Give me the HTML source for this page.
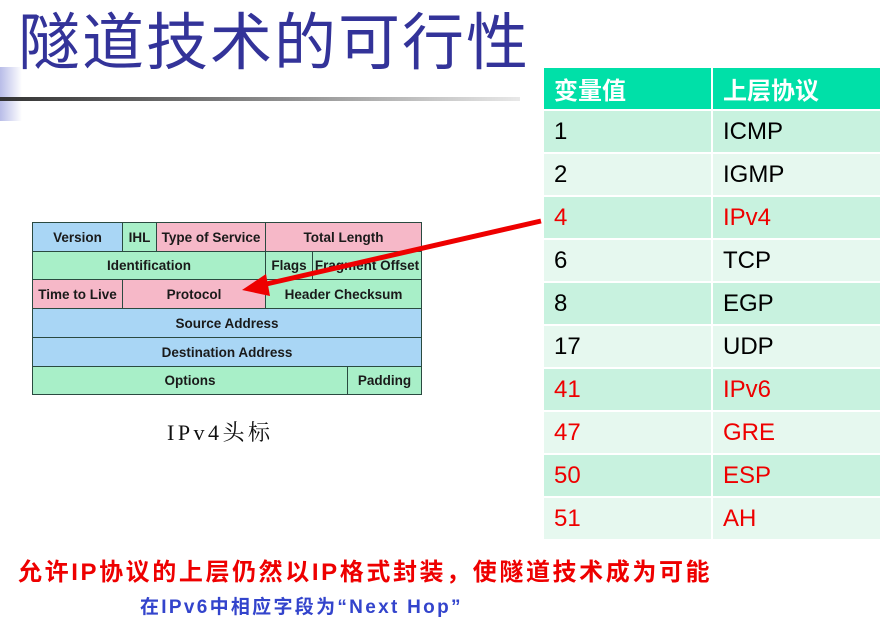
<!DOCTYPE html>
<html><head><meta charset="utf-8"><style>
body{margin:0;width:885px;height:637px;background:#fff;position:relative;overflow:hidden;font-family:"Liberation Sans","Noto Sans CJK SC",sans-serif}
.a{position:absolute}
.title{left:18px;top:4px;font-size:62px;color:#333399;letter-spacing:2px;white-space:nowrap;line-height:80px}
.pk{position:absolute;box-sizing:border-box;border:1.5px solid #2a4a40;font-weight:bold;font-size:13.5px;color:#1a1a1a;display:flex;align-items:center;justify-content:center;white-space:nowrap;overflow:hidden}
.b{background:#a9d6f5}.g{background:#a8efc8}.p{background:#f6b8c8}
.c{position:absolute;box-sizing:border-box;font-size:24px;padding-left:10px;display:flex;align-items:center;color:#000}
.r{color:#ee0000}
</style></head><body>
<div class="a" style="left:0;top:67px;width:22px;height:54px;background:linear-gradient(90deg,#b8bce8,#fff)"></div>
<div class="a" style="left:0;top:97px;width:520px;height:4px;background:linear-gradient(90deg,#333,#999 60%,#e8e8e8)"></div>
<div class="a title">隧道技术的可行性</div>

<div class="pk b" style="left:32px;top:222px;width:91px;height:30px">Version</div>
<div class="pk g" style="left:122px;top:222px;width:35px;height:30px">IHL</div>
<div class="pk p" style="left:156px;top:222px;width:110px;height:30px">Type of Service</div>
<div class="pk p" style="left:265px;top:222px;width:157px;height:30px">Total Length</div>
<div class="pk g" style="left:32px;top:251px;width:234px;height:29px">Identification</div>
<div class="pk g" style="left:265px;top:251px;width:48px;height:29px">Flags</div>
<div class="pk g" style="left:312px;top:251px;width:110px;height:29px">Fragment Offset</div>
<div class="pk p" style="left:32px;top:279px;width:91px;height:30px">Time to Live</div>
<div class="pk p" style="left:122px;top:279px;width:144px;height:30px">Protocol</div>
<div class="pk g" style="left:265px;top:279px;width:157px;height:30px">Header Checksum</div>
<div class="pk b" style="left:32px;top:308px;width:390px;height:30px">Source Address</div>
<div class="pk b" style="left:32px;top:337px;width:390px;height:30px">Destination Address</div>
<div class="pk g" style="left:32px;top:366px;width:316px;height:29px">Options</div>
<div class="pk g" style="left:347px;top:366px;width:75px;height:29px">Padding</div>

<svg class="a" style="left:0;top:0" width="885" height="637"><line x1="541" y1="221" x2="262" y2="285" stroke="#ee0000" stroke-width="5"/><polygon points="242,290 266,274 270,296" fill="#ee0000"/></svg>

<div class="a" style="left:167px;top:416px;font-family:'Liberation Serif','Noto Serif CJK SC',serif;font-size:22px;letter-spacing:3.5px;color:#111">IPv4头标</div>

<div class="c" style="left:544px;top:68px;width:167px;height:41px;background:#00e0a8;color:#fff;font-weight:bold">变量值</div>
<div class="c" style="left:713px;top:68px;width:167px;height:41px;background:#00e0a8;color:#fff;font-weight:bold">上层协议</div>
<div id="rows"></div>
<script>
var d=[["1","ICMP",0],["2","IGMP",0],["4","IPv4",1],["6","TCP",0],["8","EGP",0],["17","UDP",0],["41","IPv6",1],["47","GRE",1],["50","ESP",1],["51","AH",1]],h="";
d.forEach(function(r,i){var y=111+i*43,bg=i%2?"#e6f8ef":"#c8f2df",cl=r[2]?" r":"";
h+='<div class="c'+cl+'" style="left:544px;top:'+y+'px;width:167px;height:41px;background:'+bg+'">'+r[0]+'</div>';
h+='<div class="c'+cl+'" style="left:713px;top:'+y+'px;width:167px;height:41px;background:'+bg+'">'+r[1]+'</div>';});
document.getElementById("rows").innerHTML=h;
</script>

<div class="a" style="left:18px;top:552px;font-size:24px;font-weight:bold;color:#ee0000;white-space:nowrap;letter-spacing:2.6px">允许IP协议的上层仍然以IP格式封装，使隧道技术成为可能</div>
<div class="a" style="left:140px;top:592px;font-size:19px;font-weight:bold;color:#3344cc;white-space:nowrap;letter-spacing:2.3px">在IPv6中相应字段为“Next Hop”</div>
</body></html>
